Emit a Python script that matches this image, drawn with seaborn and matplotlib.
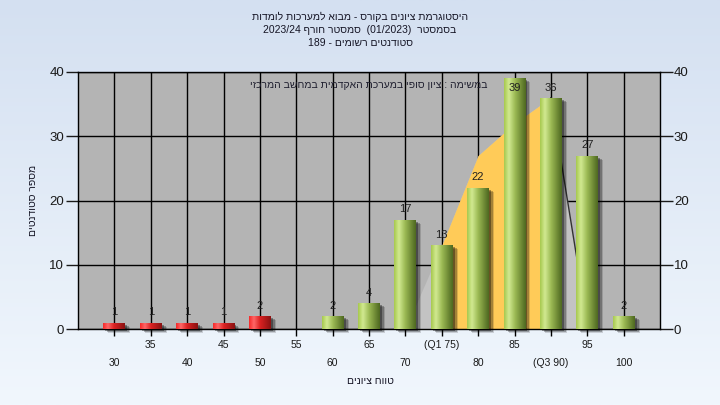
import re

import numpy as np
import pandas as pd
import matplotlib
matplotlib.use("Agg")
import matplotlib.pyplot as plt
from matplotlib.colors import LinearSegmentedColormap
from matplotlib.patches import Rectangle
from matplotlib.transforms import offset_copy
import seaborn as sns

plt.rcParams["font.family"] = ["Liberation Sans", "DejaVu Sans"]

# ---- data ----
grades = [30, 35, 40, 45, 50, 55, 60, 65, 70, 75, 80, 85, 90, 95, 100]
counts = [1, 1, 1, 1, 2, 0, 2, 4, 17, 13, 22, 39, 36, 27, 2]
tick_labels = ["30", "35", "40", "45", "50", "55", "60", "65", "70",
               "(Q1 75)", "80", "85", "(Q3 90)", "95", "100"]
pass_grade = 55
q1_grade, q3_grade = 75, 90

# smoothed distribution curve drawn behind the bars
curve_grades = [70, 75, 80, 85, 90, 95]
curve_counts = [0, 13, 27, 32, 36, 1]

title_lines = [
    "היסטוגרמת ציונים בקורס - מבוא למערכות לומדות",
    "בסמסטר  (01/2023)  סמסטר חורף 2023/24",
    "סטודנטים רשומים - 189",
]
note_text = "במשימה : ציון סופי במערכת האקדמית במחשב המרכזי"
x_title = "טווח ציונים"
y_title = "מספר סטודנטים"


def visual(s):
    """Rough right-to-left reordering, matplotlib has no bidi support."""
    mirror = {"(": ")", ")": "("}
    tokens = re.findall(r"[A-Za-z0-9/.]+|[\u0590-\u05FF]+|.", s)
    out = []
    for t in reversed(tokens):
        if re.match(r"[\u0590-\u05FF]", t):
            out.append(t[::-1])
        else:
            out.append(mirror.get(t, t))
    return "".join(out)


W, H = 720, 405
fig = plt.figure(figsize=(W / 100, H / 100), dpi=100)

# background gradient
bg = fig.add_axes([0, 0, 1, 1], zorder=-5)
bg_cmap = LinearSegmentedColormap.from_list("bg", ["#d4e0f1", "#f1f7fd"])
bg.imshow(np.linspace(0, 1, 256).reshape(-1, 1), cmap=bg_cmap, aspect="auto",
          extent=(0, 1, 0, 1))
bg.axis("off")

left, right, top, bottom = 78, 660, 72, 329
ax = fig.add_axes([left / W, 1 - bottom / H, (right - left) / W, (bottom - top) / H])
ax.set_facecolor("#b4b4b4")

df = pd.DataFrame({
    "grade": [str(g) for g in grades],
    "count": counts,
    "status": ["fail" if g < pass_grade else "pass" for g in grades],
})

# curve area: light grey everywhere, yellow between Q1 and Q3
pos = [grades.index(g) for g in curve_grades]
pos_arr = np.array(pos)
ax.fill_between(pos, curve_counts, color="#c3c3c3", zorder=1.5, lw=0)
iqr = (pos_arr >= grades.index(q1_grade)) & (pos_arr <= grades.index(q3_grade))
ax.fill_between(pos_arr[iqr], np.array(curve_counts)[iqr], color="#ffcb58", zorder=1.6, lw=0)
ax.plot(pos[4:], curve_counts[4:], color="#333333", lw=1, zorder=1.7)

sns.barplot(data=df, x="grade", y="count", hue="status",
            palette={"fail": "#d42020", "pass": "#8fb040"},
            dodge=False, width=0.6, legend=False, linewidth=0,
            zorder=3, ax=ax)

green = LinearSegmentedColormap.from_list(
    "g", [(0, "#a6c84e"), (0.22, "#d2ea92"), (0.5, "#9dbb55"), (1, "#4e6820")])
red = LinearSegmentedColormap.from_list(
    "r", [(0, "#f52a2a"), (0.22, "#ff6868"), (0.5, "#da2222"), (1, "#8a1212")])
grad = np.linspace(0, 1, 64).reshape(1, -1)

for p in list(ax.patches):
    if not isinstance(p, Rectangle) or p.get_height() <= 0:
        continue
    x0, w, h = p.get_x(), p.get_width(), p.get_height()
    fc = p.get_facecolor()
    cmap = red if fc[0] > fc[1] else green
    # soft drop shadow
    for dx, dy, a in [(2, -2, 0.35), (4, -3, 0.25), (5, -4, 0.15)]:
        tr = offset_copy(ax.transData, fig=fig, x=dx, y=dy, units="dots")
        ax.add_patch(Rectangle((x0, 0), w, h, transform=tr, color="black",
                               alpha=a, lw=0, zorder=2.5, clip_on=False))
    im = ax.imshow(grad, cmap=cmap, extent=(x0, x0 + w, 0, h),
                   aspect="auto", zorder=3.1, interpolation="bicubic")
    im.set_clip_path(p)

for i, v in enumerate(counts):
    if v > 0:
        ax.text(i, min(v + 1.6, 37.5), str(v), ha="center", va="center",
                fontsize=8, color="#202020", zorder=5)

ax.set_xlim(-1, len(grades))
ax.set_ylim(0, 40)
ax.set_yticks([0, 10, 20, 30, 40])
ax.set_xticks(range(len(grades)))
ax.set_xticklabels([""] * len(grades))
ax.set_xlabel("")
ax.set_ylabel("")
ax.grid(True, color="black", linewidth=1)
ax.set_axisbelow(True)
for s in ax.spines.values():
    s.set_color("black")
    s.set_linewidth(1)
ax.tick_params(axis="y", left=True, right=True, labelleft=True, labelright=True,
               length=9, width=1, pad=1, labelsize=9.5, colors="#1a1a1a")
ax.tick_params(axis="x", length=5, width=1, color="black")

# two-row x tick labels
for i, lbl in enumerate(tick_labels):
    yy = -0.062 if i % 2 else -0.132
    ax.text(i, yy, lbl, transform=ax.get_xaxis_transform(), ha="center",
            va="center", fontsize=7.5, color="#1a1a1a")

ax.text(0.5, 0.949, visual(note_text), transform=ax.transAxes, ha="center",
        va="center", fontsize=7.5, color="#202030", zorder=6)

for k, line in enumerate(title_lines):
    fig.text(0.5, 1 - (17 + 13 * k) / H, visual(line), ha="center", va="center",
             fontsize=7.5, color="#151525")

fig.text(370 / W, 1 - 381 / H, visual(x_title), ha="center", va="center",
         fontsize=7.5, color="#151525")
fig.text(33 / W, 1 - 200 / H, visual(y_title), ha="center", va="center",
         rotation=90, fontsize=7.5, color="#151525")

fig.savefig("out.png", dpi=100)
